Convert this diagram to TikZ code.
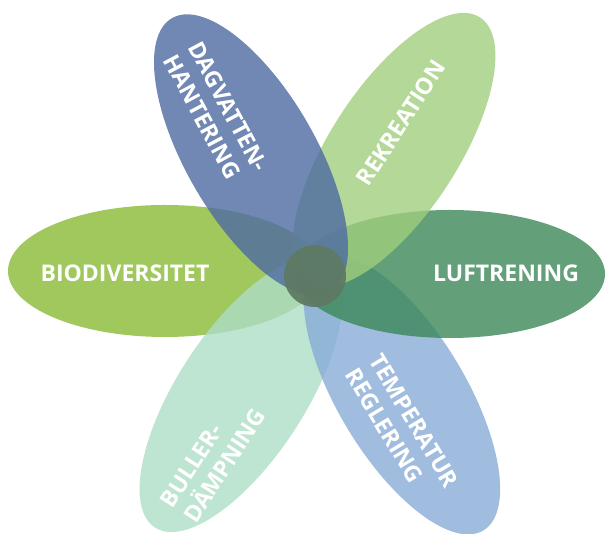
\documentclass[tikz,border=0pt]{standalone}
\usepackage{fontspec}
\setmainfont{Open Sans}
\definecolor{cBio}{RGB}{136,186,52}
\definecolor{cLuft}{RGB}{60,136,88}
\definecolor{cDag}{RGB}{78,106,162}
\definecolor{cRek}{RGB}{160,206,126}
\definecolor{cTemp}{RGB}{136,171,214}
\definecolor{cBul}{RGB}{174,221,199}
\definecolor{cMid}{RGB}{94,122,100}
\tikzset{
  petal/.style={fill opacity=0.8},
  lbl/.style={text=white, font=\fontsize{23}{28}\selectfont\bfseries, align=left, inner sep=0pt}
}
\begin{document}
\begin{tikzpicture}[x=1pt,y=1pt]
\useasboundingbox (0,0) rectangle (606,534);
% petals
\fill[petal, cBio] (165,263) ellipse [x radius=157, y radius=66];
\fill[petal, cBul] (241,139) ellipse [x radius=158, y radius=64, rotate=57];
\fill[petal, cTemp] (402,139) ellipse [x radius=158, y radius=64, rotate=-59];
\fill[petal, cLuft] (450,260) ellipse [x radius=155, y radius=64];
\fill[petal, cRek] (394,384) ellipse [x radius=158, y radius=64, rotate=57];
\fill[petal, cDag] (251,379) ellipse [x radius=158, y radius=65, rotate=-60];
% centre
\fill[cMid, fill opacity=0.95] (315,258) circle [radius=31];
% labels
\node[lbl] (bio) at (125,261) {BIODIVERSITET};
\node[lbl] (luft) at (506,261) {LUFTRENING};
\node[lbl, rotate=-62] (dag) at (216,421) {DAGVATTEN-\\HANTERING};
\node[lbl, rotate=57] (rek) at (401,411) {REKREATION};
\node[lbl, rotate=-59] (temp) at (402,106) {TEMPERATUR\\REGLERING};
\node[lbl, rotate=57] (bul) at (213,76) {BULLER-\\DÄMPNING};
\end{tikzpicture}
\end{document}
